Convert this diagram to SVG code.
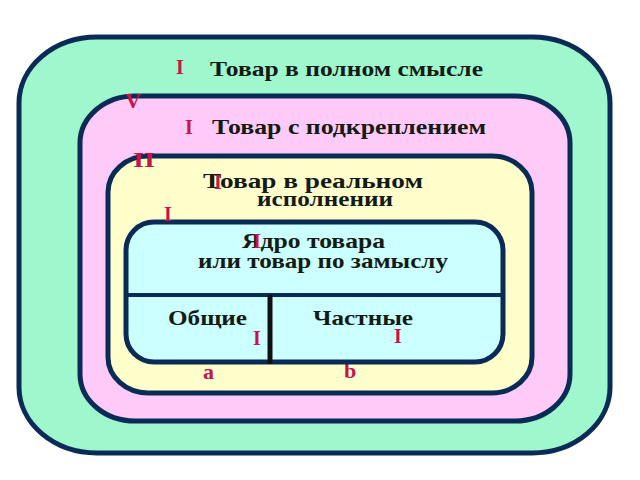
<svg xmlns="http://www.w3.org/2000/svg" width="640" height="480" viewBox="0 0 640 480">
<style>
.box{stroke:#0b2b57;stroke-width:5}
.t{font-family:"Liberation Serif","Times New Roman",serif;font-weight:bold;font-size:21px;fill:#141a14}
.r{font-family:"Liberation Serif","Times New Roman",serif;font-weight:bold;font-size:20px;fill:#c8124a}
</style>
<rect width="640" height="480" fill="#ffffff"/>
<g id="full-product">
<rect class="box" x="19" y="37" width="591" height="416" rx="78" ry="66" fill="#9ef7cd"/>
<text class="r" x="176" y="74">I</text>
<text class="t" x="210" y="76" textLength="273" lengthAdjust="spacingAndGlyphs">Товар в полном смысле</text>
</g>
<g id="augmented-product">
<rect class="box" x="80" y="96" width="490" height="325" rx="55" ry="47" fill="#fecbf8"/>
<text class="r" x="125" y="108" textLength="16" lengthAdjust="spacingAndGlyphs">V</text>
<text class="r" x="185" y="134">I</text>
<text class="t" x="212" y="134" textLength="274" lengthAdjust="spacingAndGlyphs">Товар с подкреплением</text>
</g>
<g id="actual-product">
<rect class="box" x="108" y="156" width="424" height="237" rx="40" ry="36" fill="#ffffcc"/>
<text class="r" x="133" y="167" textLength="22" lengthAdjust="spacingAndGlyphs">II</text>
<text class="t" x="203" y="188" textLength="220" lengthAdjust="spacingAndGlyphs">Товар  в  реальном</text>
<text class="r" x="214" y="189">I</text>
<text class="t" x="257" y="206" textLength="136" lengthAdjust="spacingAndGlyphs">исполнении</text>
<text class="r" x="203" y="379" style="font-size:22px">a</text>
<text class="r" x="344" y="378" style="font-size:22px">b</text>
</g>
<g id="core-product">
<rect class="box" x="126" y="222" width="377" height="140" rx="28" ry="28" fill="#ccffff"/>
<text class="r" x="164" y="221">I</text>
<line x1="126" y1="295" x2="503" y2="295" stroke="#0b2b57" stroke-width="4"/>
<line x1="270" y1="295" x2="270" y2="364" stroke="#111111" stroke-width="5"/>
<text class="t" x="242" y="248" textLength="143" lengthAdjust="spacingAndGlyphs">Ядро товара</text>
<text class="r" x="253" y="248">I</text>
<text class="t" x="198" y="268" textLength="250" lengthAdjust="spacingAndGlyphs">или товар по замыслу</text>
<g id="general">
<text class="t" x="168" y="325" textLength="79" lengthAdjust="spacingAndGlyphs">Общие</text>
<text class="r" x="253" y="345">I</text>
</g>
<g id="specific">
<text class="t" x="313" y="325" textLength="100" lengthAdjust="spacingAndGlyphs">Частные</text>
<text class="r" x="394" y="343">I</text>
</g>
</g>
<g id="connectors"></g>
</svg>
